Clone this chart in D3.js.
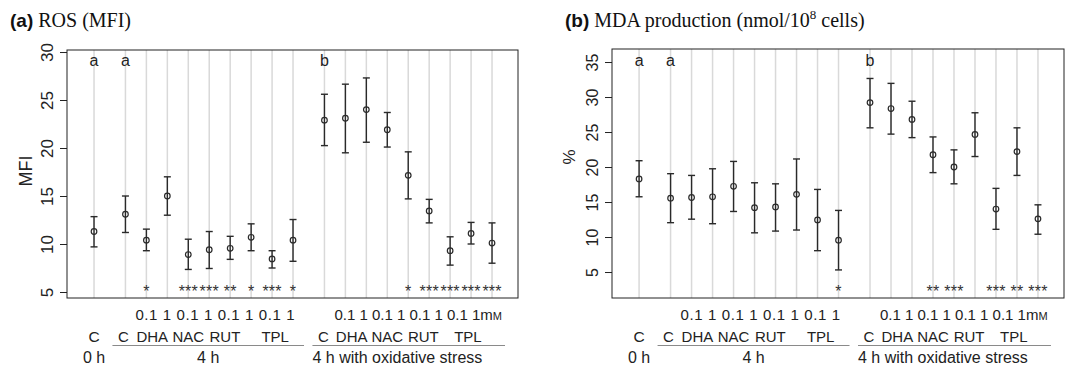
<!DOCTYPE html>
<meta charset="utf-8">
<html>
<head>
  <style>
    body { margin: 0; background: #fff; }
    svg { display: block; }
    .sans { font-family: "Liberation Sans", Arial, sans-serif; }
    .serif { font-family: "Liberation Serif", "Times New Roman", serif; }
    .grid { stroke: #d9d9d9; stroke-width: 1.5px; }
    .bar { stroke: #2a2a2a; stroke-width: 1.4px; }
    .pt { fill: none; stroke: #2a2a2a; stroke-width: 1.2px; }
    .box { fill: none; stroke: #222; stroke-width: 1px; }
    .uline { stroke: #8a8a8a; stroke-width: 1px; }
  </style>
</head>
<body>
<svg width="1069" height="369"></svg>

<script src="https://d3js.org/d3.v7.min.js"></script>
<script>

// conditions: 0 h control, then 4 h and 4 h with oxidative stress (C + 4 drugs x 2 doses)
const conditionGroup = [0, 1, 1, 1, 1, 1, 1, 1, 1, 1, 2, 2, 2, 2, 2, 2, 2, 2, 2];
const doseLabels = ["0.1", "1", "0.1", "1", "0.1", "1", "0.1", "1"];
const treatLabels = ["C", "DHA", "NAC", "RUT", "TPL"];
const groupLabels = ["0 h", "4 h", "4 h with oxidative stress"];

// (a) ROS, MFI
const rosMean = [11.3, 13.1, 10.4, 15.0, 8.9, 9.4, 9.55, 10.7, 8.45, 10.4, 22.9, 23.1, 24.0, 21.9, 17.15, 13.45, 9.3, 11.1, 10.1];
const rosLow  = [9.7, 11.2, 9.3, 13.0, 7.35, 7.45, 8.4, 9.3, 7.5, 8.2, 20.25, 19.5, 20.6, 20.1, 14.7, 12.2, 7.8, 10.0, 8.0];
const rosHigh = [12.85, 15.0, 11.55, 17.0, 10.5, 11.3, 10.8, 12.1, 9.3, 12.55, 25.6, 26.65, 27.3, 23.7, 19.6, 14.65, 10.75, 12.25, 12.2];
const rosStars = ["", "", "*", "", "***", "***", "**", "*", "***", "*", "", "", "", "", "*", "***", "***", "***", "***"];
const rosLetters = ["a", "a", "", "", "", "", "", "", "", "", "b", "", "", "", "", "", "", "", ""];
const rosTicks = [5, 10, 15, 20, 25, 30];

// (b) MDA production, %
const mdaMean = [18.3, 15.55, 15.65, 15.75, 17.25, 14.2, 14.3, 16.1, 12.45, 9.55, 29.2, 28.35, 26.8, 21.75, 20.0, 24.65, 14.0, 22.2, 12.6];
const mdaLow  = [15.75, 12.05, 12.55, 11.9, 13.65, 10.6, 10.85, 11.0, 8.05, 5.3, 25.6, 24.7, 24.2, 19.2, 17.6, 21.5, 11.1, 18.8, 10.4];
const mdaHigh = [20.9, 19.05, 18.8, 19.75, 20.8, 17.75, 17.6, 21.15, 16.8, 13.8, 32.65, 31.95, 29.4, 24.3, 22.45, 27.75, 16.95, 25.6, 14.6];
const mdaStars = ["", "", "", "", "", "", "", "", "", "*", "", "", "", "**", "***", "", "***", "**", "***"];
const mdaLetters = rosLetters;
const mdaTicks = [5, 10, 15, 20, 25, 30, 35];

// x position of each condition, groups separated by an extra half step
const xPos = conditionGroup.map((g, i) => i + 0.5 * g);
// where the treatment names sit under each group (in x units)
const treatPos4h = [1.4, 2.78, 4.5, 6.25, 8.65];
const treatPosOx = [10.95, 12.3, 14.0, 15.72, 17.85];

const svg = d3.select("svg");

function drawPanel(p) {
  const x = d3.scaleLinear().domain([-1.29, 20.24]).range([p.left, p.right]);
  const y = d3.scaleLinear().domain(p.yDomain).range([p.bottom, p.top]);
  const g = svg.append("g");

  // vertical grey guides
  g.selectAll(".grid").data(xPos).join("line")
    .attr("class", "grid")
    .attr("x1", d => x(d)).attr("x2", d => x(d))
    .attr("y1", p.top).attr("y2", p.bottom);

  // y axis, R style labels
  const ax = g.append("g")
    .attr("transform", `translate(${p.left},0)`)
    .call(d3.axisLeft(y).tickValues(p.ticks).tickSize(7).tickSizeOuter(0));
  ax.select(".domain").remove();
  ax.selectAll(".tick line").attr("stroke", "#222");
  ax.selectAll(".tick text")
    .attr("class", "sans")
    .attr("x", null).attr("dy", null)
    .attr("transform", "translate(-14,0) rotate(-90)")
    .attr("text-anchor", "middle")
    .attr("fill", "#222")
    .style("font-size", p.tickFont + "px");

  g.append("text")
    .attr("class", "sans")
    .attr("transform", `translate(${p.left - p.ylabOff},${p.ylabY}) rotate(-90)`)
    .attr("text-anchor", "middle")
    .attr("fill", "#222")
    .style("font-size", p.ylabFont + "px")
    .text(p.ylab);

  // error bars
  const idx = d3.range(p.mean.length);
  g.selectAll(".bar").data(idx).join("line")
    .attr("class", "bar")
    .attr("x1", i => x(xPos[i])).attr("x2", i => x(xPos[i]))
    .attr("y1", i => y(p.low[i])).attr("y2", i => y(p.high[i]));
  ["low", "high"].forEach(k => {
    g.selectAll(".cap-" + k).data(idx).join("line")
      .attr("class", "bar cap-" + k)
      .attr("x1", i => x(xPos[i]) - 3.5).attr("x2", i => x(xPos[i]) + 3.5)
      .attr("y1", i => y(p[k][i])).attr("y2", i => y(p[k][i]));
  });
  g.selectAll(".pt").data(idx).join("circle")
    .attr("class", "pt")
    .attr("cx", i => x(xPos[i])).attr("cy", i => y(p.mean[i]))
    .attr("r", 2.8);

  // significance stars and group letters
  g.selectAll(".star").data(idx.filter(i => p.stars[i])).join("text")
    .attr("class", "sans star")
    .attr("x", i => x(xPos[i])).attr("y", 297)
    .attr("text-anchor", "middle")
    .attr("fill", "#333")
    .style("font-size", "16px").style("letter-spacing", "0.2px")
    .text(i => p.stars[i]);
  g.selectAll(".letter").data(idx.filter(i => p.letters[i])).join("text")
    .attr("class", "sans letter")
    .attr("x", i => x(xPos[i])).attr("y", 66)
    .attr("text-anchor", "middle")
    .attr("fill", "#222")
    .style("font-size", "16px")
    .text(i => p.letters[i]);

  g.append("rect").attr("class", "box")
    .attr("x", p.left).attr("y", p.top)
    .attr("width", p.right - p.left).attr("height", p.bottom - p.top);

  // x labels: doses
  const lab = g.append("g").attr("class", "sans").attr("fill", "#222");
  const d4Start = x(xPos[2]) - 11, d4End = x(xPos[9]) + 1.5;
  lab.append("text")
    .attr("x", d4Start).attr("y", 320)
    .attr("textLength", d4End - d4Start).attr("lengthAdjust", "spacing")
    .style("font-size", "15px")
    .text(doseLabels.join(" "));
  const dOx = lab.append("text")
    .attr("x", x(xPos[11]) - 11).attr("y", 320)
    .style("font-size", "15px");
  dOx.append("tspan").text(doseLabels.join(" ") + "m");
  dOx.append("tspan").style("font-size", "11px").text("M");

  // treatment names
  lab.append("text").attr("x", x(xPos[0])).attr("y", 341.5)
    .attr("text-anchor", "middle").style("font-size", "15.5px").text("C");
  lab.selectAll(".t4").data(treatLabels).join("text")
    .attr("class", "t4")
    .attr("x", (d, i) => x(treatPos4h[i])).attr("y", 341.5)
    .attr("text-anchor", "middle").style("font-size", "15px").text(d => d);
  lab.selectAll(".tox").data(treatLabels).join("text")
    .attr("class", "tox")
    .attr("x", (d, i) => x(treatPosOx[i])).attr("y", 341.5)
    .attr("text-anchor", "middle").style("font-size", "15px").text(d => d);

  // group underlines and names
  const u4 = [x(xPos[1]) - 13, x(xPos[9]) + 11];
  const uOx = [x(xPos[10]) - 12, x(xPos[18]) + 13];
  [u4, uOx].forEach(u => {
    g.append("line").attr("class", "uline")
      .attr("x1", u[0]).attr("x2", u[1]).attr("y1", 345.5).attr("y2", 345.5);
  });
  lab.append("text").attr("x", x(xPos[0])).attr("y", 363)
    .attr("text-anchor", "middle").style("font-size", "16px").text(groupLabels[0]);
  lab.append("text").attr("x", (u4[0] + u4[1]) / 2).attr("y", 363)
    .attr("text-anchor", "middle").style("font-size", "16px").text(groupLabels[1]);
  lab.append("text").attr("x", uOx[0]).attr("y", 363)
    .style("font-size", "16px").text(groupLabels[2]);

  // panel title
  const t = svg.append("text").attr("x", p.titleX).attr("y", 27).attr("fill", "#111");
  t.append("tspan").attr("class", "sans").style("font-weight", "bold").style("font-size", "19px").text(p.tag);
  p.title.forEach(part => {
    const s = t.append("tspan").attr("class", "serif").style("font-size", part.sup ? "13px" : "20px").text(part.text);
    if (part.sup) s.attr("dy", -8);
    if (part.after) s.attr("dy", 8);
  });
}

drawPanel({
  left: 67, right: 518, top: 50, bottom: 298,
  yDomain: [4.375, 30.21], ticks: rosTicks,
  mean: rosMean, low: rosLow, high: rosHigh, stars: rosStars, letters: rosLetters,
  tickFont: 17, ylab: "MFI", ylabFont: 18, ylabOff: 35, ylabY: 171,
  titleX: 10, tag: "(a)", title: [{ text: " ROS (MFI)" }]
});

drawPanel({
  left: 612, right: 1064, top: 49, bottom: 298,
  yDomain: [1.29, 36.86], ticks: mdaTicks,
  mean: mdaMean, low: mdaLow, high: mdaHigh, stars: mdaStars, letters: mdaLetters,
  tickFont: 16, ylab: "%", ylabFont: 17, ylabOff: 37, ylabY: 157,
  titleX: 565, tag: "(b)",
  title: [{ text: " MDA production (nmol/10" }, { text: "8", sup: true }, { text: " cells)", after: true }]
});

</script>
</body>
</html>
